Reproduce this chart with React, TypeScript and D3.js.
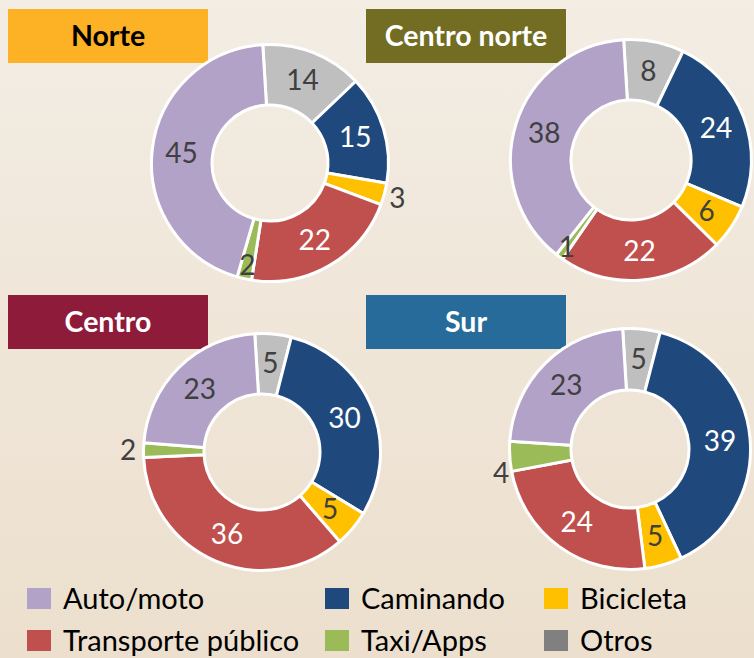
import React from "react";
import * as d3 from "d3";

const CATEGORIES = ["Auto/moto", "Caminando", "Bicicleta", "Transporte público", "Taxi/Apps", "Otros"];
const REGIONS = ["Norte", "Centro norte", "Centro", "Sur"];
const NORTE = [45, 15, 3, 22, 2, 14];
const CENTRO_NORTE = [38, 24, 6, 22, 1, 8];
const CENTRO = [23, 30, 5, 36, 2, 5];
const SUR = [23, 39, 5, 24, 4, 5];
const VALUES = [NORTE, CENTRO_NORTE, CENTRO, SUR];

// clockwise drawing order from 12 o'clock (indices into CATEGORIES)
const DRAW_ORDER = [5, 1, 2, 3, 4, 0];

const SLICE_COLORS = ["#B3A2C7", "#1F497D", "#FFC000", "#C0504D", "#9BBB59", "#BFBFBF"];
const LEGEND_COLORS = ["#B3A2C7", "#1F497D", "#FFC000", "#C0504D", "#9BBB59", "#808080"];
const LABEL_COLORS = ["#404040", "#FFFFFF", "#404040", "#FFFFFF", "#404040", "#404040"];
const TITLE_COLORS = ["#FDB124", "#726D23", "#8E1B3A", "#276B9A"];
const TITLE_TEXT = ["#000000", "#FFFFFF", "#FFFFFF", "#FFFFFF"];

const LAYOUT = [
  { cx: 270, cy: 163, R: 120, r: 58, box: [8, 9] },
  { cx: 631, cy: 160, R: 122, r: 60, box: [366, 9] },
  { cx: 262, cy: 452, R: 120, r: 58, box: [8, 295] },
  { cx: 630, cy: 449, R: 122, r: 59, box: [366, 295] },
];

// label placement overrides: [chart, category] -> radius / angle offset (deg)
const LABEL_OVERRIDES: Record<string, { r: number; da?: number }> = {
  "0-2": { r: 132 },
  "0-4": { r: 104 },
  "1-4": { r: 108 },
  "2-4": { r: 134 },
  "3-4": { r: 131, da: -7 },
};

const ROTATION = (-3.5 * Math.PI) / 180;
const FONT = "Lato, 'Open Sans', sans-serif";

function Donut({ idx }: { idx: number }) {
  const L = LAYOUT[idx];
  const vals = VALUES[idx];
  const items = DRAW_ORDER.map((c) => ({ cat: c, value: vals[c] }));
  const pie = d3
    .pie<{ cat: number; value: number }>()
    .value((d) => d.value)
    .sort(null)
    .startAngle(ROTATION)
    .endAngle(ROTATION + 2 * Math.PI);
  const arcs = pie(items);
  const arc = d3
    .arc<d3.PieArcDatum<{ cat: number; value: number }>>()
    .innerRadius(L.r)
    .outerRadius(L.R - 1.5);
  return (
    <g transform={`translate(${L.cx},${L.cy})`}>
      {arcs.map((a) => (
        <path key={a.data.cat} d={arc(a) || ""} fill={SLICE_COLORS[a.data.cat]} stroke="#FFFFFF" strokeWidth={3} strokeLinejoin="round" />
      ))}
      {arcs.map((a) => {
        const ov = LABEL_OVERRIDES[`${idx}-${a.data.cat}`];
        const mid = (a.startAngle + a.endAngle) / 2 + ((ov && ov.da) || 0) * Math.PI / 180;
        const rad = ov ? ov.r : (L.R + L.r) / 2;
        const x = rad * Math.sin(mid);
        const y = -rad * Math.cos(mid);
        const outside = ov && ov.r > L.R;
        return (
          <text
            key={"t" + a.data.cat}
            x={x}
            y={y}
            dy="0.36em"
            textAnchor="middle"
            fontFamily={FONT}
            fontSize={28}
            fill={outside ? "#404040" : LABEL_COLORS[a.data.cat]}
          >
            {a.data.value}
          </text>
        );
      })}
    </g>
  );
}

export default function App() {
  const W = 754;
  const H = 658;
  const legendCols = [27, 325, 544];
  const legendRows = [588, 630];
  return (
    <div style={{ position: "fixed", left: 0, top: 0 }}>
      <svg width={W} height={H} style={{ display: "block" }}>
        <defs>
          <linearGradient id="bg" x1="0" y1="0" x2="0" y2="1">
            <stop offset="0" stopColor="#F3EDE4" />
            <stop offset="1" stopColor="#ECDFCD" />
          </linearGradient>
        </defs>
        <rect x={0} y={0} width={W} height={H} fill="url(#bg)" />
        {REGIONS.map((name, i) => (
          <g key={name}>
            <rect x={LAYOUT[i].box[0]} y={LAYOUT[i].box[1]} width={200} height={54} fill={TITLE_COLORS[i]} />
            <text
              x={LAYOUT[i].box[0] + 100}
              y={LAYOUT[i].box[1] + 26.5}
              dy="0.36em"
              textAnchor="middle"
              fontFamily={FONT}
              fontWeight={700}
              fontSize={28.5}
              fill={TITLE_TEXT[i]}
            >
              {name}
            </text>
          </g>
        ))}
        {REGIONS.map((name, i) => (
          <Donut key={"d" + name} idx={i} />
        ))}
        {CATEGORIES.map((c, i) => {
          const col = i % 3;
          const row = Math.floor(i / 3);
          const x = legendCols[col];
          const y = legendRows[row];
          return (
            <g key={c}>
              <rect x={x} y={y} width={24} height={21} fill={LEGEND_COLORS[i]} />
              <text x={x + 36} y={y + 10.5} dy="0.36em" fontFamily={FONT} fontSize={29} fill="#000000">
                {c}
              </text>
            </g>
          );
        })}
      </svg>
    </div>
  );
}
